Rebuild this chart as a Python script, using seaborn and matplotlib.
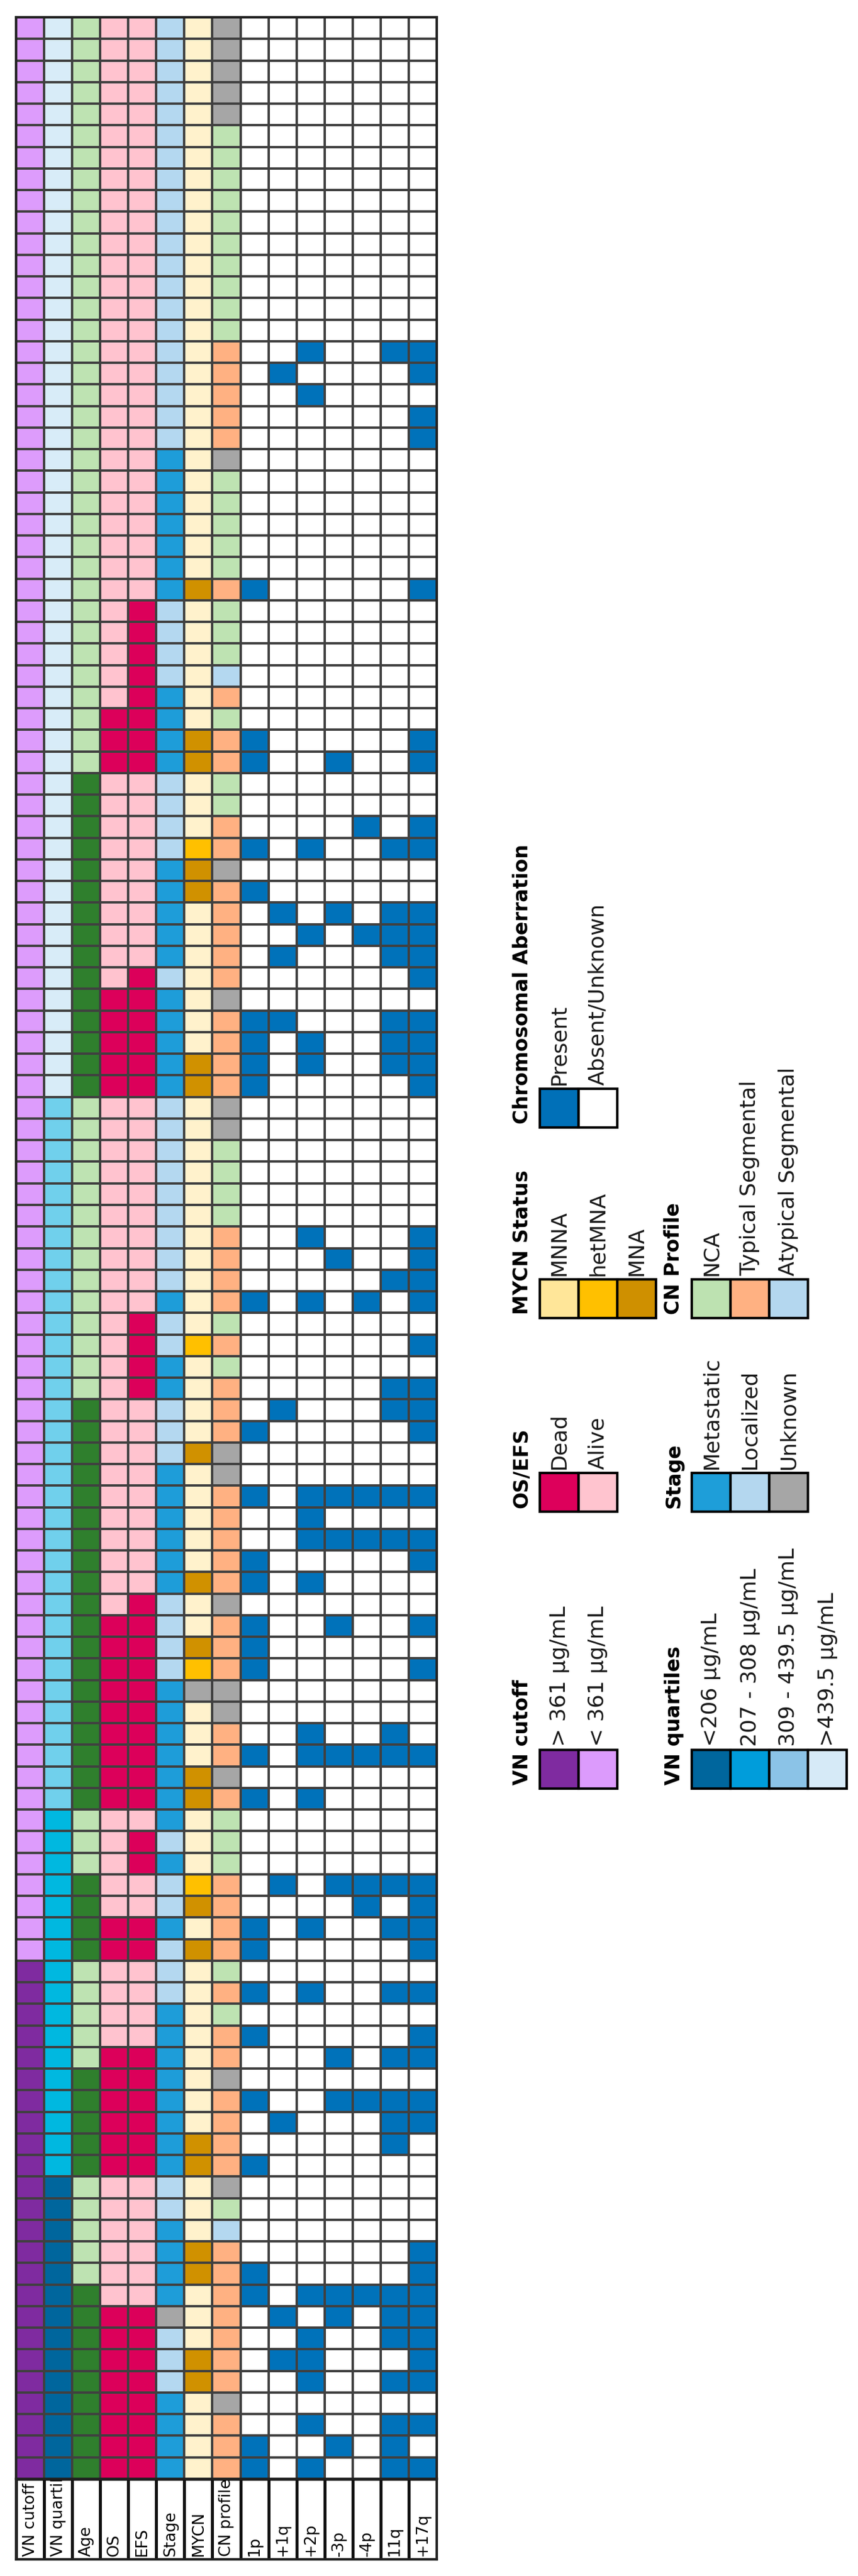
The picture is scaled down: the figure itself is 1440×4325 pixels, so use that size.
# %%
import numpy as np
import pandas as pd
import matplotlib
matplotlib.use("Agg")
import matplotlib.pyplot as plt
import seaborn as sns
from matplotlib.colors import ListedColormap
from matplotlib.patches import Rectangle

# %%
# one character per patient, top row first (spaces only group by 10)
VN_CUTOFF = "LLLLLLLLLL LLLLLLLLLL LLLLLLLLLL LLLLLLLLLL LLLLLLLLLL LLLLLLLLLL LLLLLLLLLL LLLLLLLLLL LLLLLLLLLL HHHHHHHHHH HHHHHHHHHH HHHH"
VN_QUART = "4444444444 4444444444 4444444444 4444444444 4444444444 3333333333 3333333333 3333333333 3332222222 2222222222 1111111111 1111"
AGE = "llllllllll llllllllll llllllllll lllllddddd dddddddddd llllllllll lllldddddd dddddddddd dddllldddd lllllddddd lllllddddd dddd"
OS = "AAAAAAAAAA AAAAAAAAAA AAAAAAAAAA AADDDAAAAA AAAAADDDDD AAAAAAAAAA AAAAAAAAAA AAAADDDDDD DDDAAAAADD AAAADDDDDD AAAAAADDDD DDDD"
EFS = "AAAAAAAAAA AAAAAAAAAA AAAAAAADDD DDDDDAAAAA AAAADDDDDD AAAAAAAAAA DDDDAAAAAA AAADDDDDDD DDDADDAADD AAAADDDDDD AAAAAADDDD DDDD"
STAGE = "LLLLLLLLLL LLLLLLLLLL MMMMMMMLLL LMMMMLLLLM MMMMLMMMMM LLLLLLLLLM LLMMLLLMMM MMMLLLLMMM MMMMLMLLML LLMMMMMMMM LLMMMMULLL MMMM"
MYCN = "NNNNNNNNNN NNNNNNNNNN NNNNNNANNN NNNAANNNhA ANNNNNNNAA NNNNNNNNNN NhNNNNANNN NNANNAhUNN NAANNNhANA NNNNNNNNAA NNNAANNNAA NNNN"
CN_PROFILE = "UUUUUNNNNN NNNNNTTTTT UNNNNNTNNN ATNTTNNTTU TTTTTUTTTT UUNNNNTTTT NTNTTTUUTT TTTUTTTUUT TUTNNNTTTT NTNTTUTTTT UNATTTTTTT UTTT"

# chromosomal aberrations: patient positions (0 = top row) where present
ABER_1P = [26, 33, 34, 38, 40, 46, 47, 48, 49, 59, 65, 68, 71, 72, 74, 75, 76, 80, 82,
           88, 89, 91, 93, 96, 99, 104, 105, 112, 113]
ABER_1Q = [16, 41, 43, 46, 64, 86, 97, 106, 108]
ABER_2P = [15, 17, 38, 42, 47, 48, 56, 59, 68, 69, 70, 72, 79, 80, 82, 88, 91, 105, 107,
           108, 109, 111, 113]
ABER_3P = [34, 41, 57, 68, 70, 74, 80, 86, 94, 96, 105, 106, 112]
ABER_4P = [37, 42, 59, 68, 70, 80, 86, 87, 96, 105]
ABER_11Q = [15, 38, 41, 42, 43, 46, 47, 48, 58, 63, 64, 68, 70, 79, 80, 86, 88, 91, 94,
            96, 97, 98, 105, 106, 107, 109, 111, 112, 113]
ABER_17Q = [15, 16, 18, 19, 26, 33, 34, 37, 38, 41, 42, 43, 44, 46, 47, 48, 49, 56, 57,
            58, 59, 61, 63, 64, 65, 68, 70, 71, 74, 76, 80, 86, 87, 88, 89, 91, 93, 94,
            96, 97, 103, 104, 105, 106, 107, 108, 109, 111, 113]

COLUMNS = ["VN cutoff", "VN quartiles", "Age", "OS", "EFS", "Stage", "MYCN",
           "CN profile", "1p", "+1q", "+2p", "-3p", "-4p", "11q", "+17q"]
ABER_COLUMNS = ["1p", "+1q", "+2p", "-3p", "-4p", "11q", "+17q"]
ABER_LISTS = [ABER_1P, ABER_1Q, ABER_2P, ABER_3P, ABER_4P, ABER_11Q, ABER_17Q]

# colours used in the grid
CUT_COLORS = {"H": "#7F2BA0", "L": "#DD9CFC"}
QUART_COLORS = {"1": "#00669D", "2": "#00B8E0", "3": "#70D0EC", "4": "#D8ECF8"}
AGE_COLORS = {"l": "#BEE3B2", "d": "#2F7F2D"}
SURV_COLORS = {"D": "#DC005A", "A": "#FFC3CF"}
STAGE_COLORS = {"M": "#1E9DD9", "L": "#B4D8F0", "U": "#A6A6A6"}
MYCN_COLORS = {"N": "#FFF2CC", "h": "#FFC000", "A": "#D09100", "U": "#A6A6A6"}
CN_COLORS = {"N": "#BEE3B2", "T": "#FFB182", "A": "#B4D8F0", "U": "#A6A6A6"}
ABER_COLORS = {True: "#0072BA", False: "#FFFFFF"}

# legend content
LEGEND_TITLES = ["Chromosomal Aberration", "MYCN Status", "CN Profile", "OS/EFS",
                 "Stage", "VN cutoff", "VN quartiles"]
LEGEND_LABELS = [
    ["Present", "Absent/Unknown"],
    ["MNNA", "hetMNA", "MNA"],
    ["NCA", "Typical Segmental", "Atypical Segmental"],
    ["Dead", "Alive"],
    ["Metastatic", "Localized", "Unknown"],
    ["> 361 \u00b5g/mL", "< 361 \u00b5g/mL"],
    ["<206 \u00b5g/mL", "207 - 308 \u00b5g/mL", "309 - 439.5 \u00b5g/mL", ">439.5 \u00b5g/mL"],
]
LEGEND_COLORS = [
    ["#0070B8", "#FFFFFF"],
    ["#FFE699", "#FFC000", "#CF9000"],
    ["#BDE2B1", "#FFB182", "#B4D7EF"],
    ["#DD005B", "#FFC4CF"],
    ["#1E9ED9", "#B4D7EF", "#A6A6A6"],
    ["#7F2BA0", "#DC9BFC"],
    ["#00669D", "#009DDB", "#8BC3E7", "#D6EAF7"],
]

# %%
# build colour table, then integer codes for the heatmap
def chars(s):
    return list(s.replace(" ", ""))

cols = {
    "VN cutoff": [CUT_COLORS[c] for c in chars(VN_CUTOFF)],
    "VN quartiles": [QUART_COLORS[c] for c in chars(VN_QUART)],
    "Age": [AGE_COLORS[c] for c in chars(AGE)],
    "OS": [SURV_COLORS[c] for c in chars(OS)],
    "EFS": [SURV_COLORS[c] for c in chars(EFS)],
    "Stage": [STAGE_COLORS[c] for c in chars(STAGE)],
    "MYCN": [MYCN_COLORS[c] for c in chars(MYCN)],
    "CN profile": [CN_COLORS[c] for c in chars(CN_PROFILE)],
}
n_pat = len(cols["VN cutoff"])
for name, present in zip(ABER_COLUMNS, ABER_LISTS):
    cols[name] = [ABER_COLORS[i in present] for i in range(n_pat)]

color_df = pd.DataFrame(cols)[COLUMNS]
palette = sorted(set(color_df.values.ravel()))
lookup = {c: i for i, c in enumerate(palette)}
code_df = color_df.apply(lambda s: s.map(lookup))
print(color_df.shape)

# %%
sns.set_style("white")
plt.rcParams["font.family"] = ["DejaVu Sans"]

W, H = 1440, 4325
fig = plt.figure(figsize=(W / 100, H / 100), dpi=100)


def px_axes(x0, y0, x1, y1):
    return fig.add_axes([x0 / W, 1 - y1 / H, (x1 - x0) / W, (y1 - y0) / H])


# main grid
ax = px_axes(27, 29, 733, 4162)
sns.heatmap(code_df, cmap=ListedColormap(palette), vmin=-0.5, vmax=len(palette) - 0.5,
            cbar=False, linewidths=1.7, linecolor="#404040",
            xticklabels=False, yticklabels=False, ax=ax)
ax.set_xlabel("")
ax.set_ylabel("")
for sp in ax.spines.values():
    sp.set_visible(True)
    sp.set_linewidth(3)
    sp.set_color("#222222")

# header row with rotated column names, clipped to their cells
axh = px_axes(27, 4162, 733, 4297)
sns.heatmap(np.zeros((1, len(COLUMNS))), cmap=ListedColormap(["#FFFFFF"]), cbar=False,
            linewidths=2.2, linecolor="#111111", xticklabels=False, yticklabels=False, ax=axh)
for sp in axh.spines.values():
    sp.set_visible(True)
    sp.set_linewidth(3)
    sp.set_color("#222222")
for j, lab in enumerate(COLUMNS):
    cell = Rectangle((j, 0), 1, 1, transform=axh.transData)
    t = axh.text(j + 0.5, 0.96, lab, rotation=90, ha="center", va="bottom",
                 fontsize=19, color="black", clip_on=True)
    t.set_clip_path(cell)

# %%
# legend, drawn in pixel coordinates
axl = fig.add_axes([0, 0, 1, 1])
axl.set_xlim(0, W)
axl.set_ylim(H, 0)
axl.axis("off")

BOX = 65
LEGEND_POS = [(906, 1893), (906, 2213), (1161, 2213), (906, 2538), (1161, 2538),
              (906, 3003), (1161, 3003)]
for title, labels, colors, (x0, yb) in zip(LEGEND_TITLES, LEGEND_LABELS, LEGEND_COLORS, LEGEND_POS):
    for k, (lab, col) in enumerate(zip(labels, colors)):
        axl.add_patch(Rectangle((x0 + k * BOX, yb - BOX), BOX, BOX, facecolor=col,
                                edgecolor="black", linewidth=3))
        axl.text(x0 + (k + 0.5) * BOX, yb - BOX - 6, lab, rotation=90, ha="center",
                 va="bottom", fontsize=26, color="#1a1a1a")
    axl.text(x0 - 30, yb - 6, title, rotation=90, ha="center", va="bottom",
             fontsize=24, fontweight="bold", color="black")

fig.savefig("out.png", dpi=100)
